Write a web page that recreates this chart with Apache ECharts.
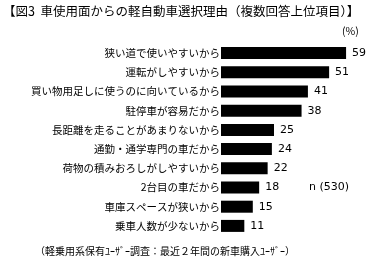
<!DOCTYPE html>
<html><head><meta charset="utf-8">
<script src="https://cdn.jsdelivr.net/npm/echarts@6/dist/echarts.min.js"></script>
<style>html,body{margin:0;padding:0;background:#fff}#c{width:371px;height:262px}</style>
</head><body><div id="c"></div>
<script>
const categories = ["狭い道で使いやすいから","運転がしやすいから","買い物用足しに使うのに向いているから","駐停車が容易だから","長距離を走ることがあまりないから","通勤・通学専門の車だから","荷物の積みおろしがしやすいから","2台目の車だから","車庫スペースが狭いから","乗車人数が少ないから"];
const values = [59,51,41,38,25,24,22,18,15,11];
const titleText = "【図3  車使用面からの軽自動車選択理由（複数回答上位項目）】";
const unitText = "(%)";
const nText = "n (530)";
const noteText = "（軽乗用系保有ﾕｰｻﾞｰ調査：最近２年間の新車購入ﾕｰｻﾞｰ）";
const font = '"Noto Sans CJK JP", "DejaVu Sans", sans-serif';
const chart = echarts.init(document.getElementById('c'));
chart.setOption({
  animation:false,
  backgroundColor:'#fff',
  grid:{left:221, top:43.5, width:127.2, height:192, containLabel:false},
  xAxis:{type:'value', min:0, max:60, show:false},
  yAxis:{type:'category', data:categories, inverse:true,
    axisLine:{show:false}, axisTick:{show:false},
    axisLabel:{color:'#000', fontSize:10.5, fontFamily:font, margin:1}},
  series:[{type:'bar', data:values, barWidth:12, itemStyle:{color:'#000'},
    label:{show:true, position:'right', distance:6, color:'#000', fontSize:11, fontFamily:'"DejaVu Sans", sans-serif'}}],
  graphic:[
    {type:'text', left:3, top:5, style:{text:titleText, fontSize:12.5, fontFamily:font, fill:'#000'}},
    {type:'text', left:342, top:26, style:{text:unitText, fontSize:10.5, fontFamily:font, fill:'#000'}},
    {type:'text', left:309, top:182, style:{text:nText, fontSize:11, fontFamily:'"DejaVu Sans", sans-serif', fill:'#000'}},
    {type:'text', left:35, top:246, style:{text:noteText, fontSize:10, fontFamily:font, fill:'#000'}}
  ]
});
</script></body></html>
